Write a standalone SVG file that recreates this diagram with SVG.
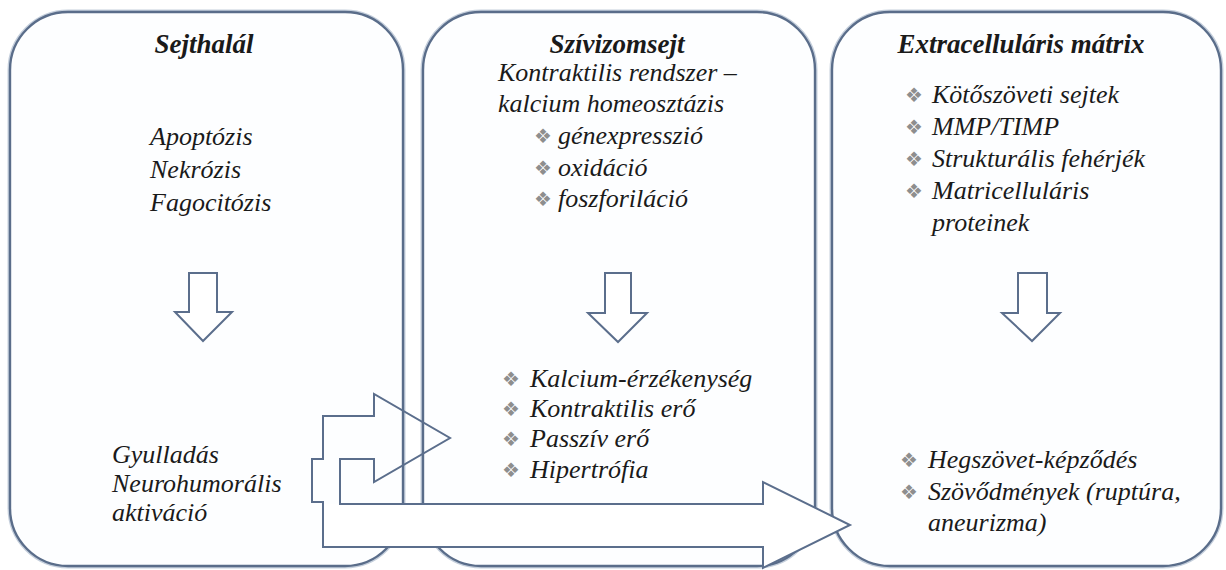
<svg xmlns="http://www.w3.org/2000/svg" width="1226" height="570" viewBox="0 0 1226 570">
<style>
.halo{fill:none;stroke:#c5cfdc;stroke-width:5}
.box{fill:#fdfeff;stroke:#5a6d8a;stroke-width:2.4}
.t{font-family:"Liberation Serif",serif;font-style:italic;font-weight:bold;font-size:27px;fill:#1a1a1a;text-anchor:middle}
.x{font-family:"Liberation Serif",serif;font-style:italic;font-size:26px;fill:#1a1a1a}
.b{font-family:"DejaVu Sans",sans-serif;font-size:20px;fill:#8e8e8e}
.ar{fill:#ffffff;stroke:#5b6e8c;stroke-width:2}
.ln{fill:none;stroke:#5b6e8c;stroke-width:2}
</style>
<rect width="1226" height="570" fill="#ffffff"/>

<g id="sejthalal">
<rect class="halo" x="10" y="12" width="393" height="554" rx="58"/>
<rect class="box" x="10" y="12" width="393" height="554" rx="58"/>
<text class="t" x="204" y="53">Sejthalál</text>
<text class="x" x="150" y="145">Apoptózis</text>
<text class="x" x="150" y="178">Nekrózis</text>
<text class="x" x="150" y="211">Fagocitózis</text>
<path class="ar" d="M189,273 H217 V312 H232 L203,341 L175,312 H189 Z"/>
<text class="x" x="112" y="463">Gyulladás</text>
<text class="x" x="112" y="492">Neurohumorális</text>
<text class="x" x="112" y="521">aktiváció</text>
</g>

<g id="szivizomsejt">
<rect class="halo" x="423" y="12" width="392" height="554" rx="58"/>
<rect class="box" x="423" y="12" width="392" height="554" rx="58"/>
<text class="t" x="617" y="53">Szívizomsejt</text>
<text class="x" x="498" y="81">Kontraktilis rendszer –</text>
<text class="x" x="498" y="112">kalcium homeosztázis</text>
<text class="b" x="534" y="143">❖</text><text class="x" x="558" y="144">génexpresszió</text>
<text class="b" x="534" y="175">❖</text><text class="x" x="558" y="176">oxidáció</text>
<text class="b" x="534" y="206">❖</text><text class="x" x="558" y="207">foszforiláció</text>
<path class="ar" d="M605,273 H631 V313 H647 L618,342 L588,313 H605 Z"/>
<text class="b" x="502" y="386">❖</text><text class="x" x="530" y="387">Kalcium-érzékenység</text>
<text class="b" x="502" y="416">❖</text><text class="x" x="530" y="417">Kontraktilis erő</text>
<text class="b" x="502" y="446">❖</text><text class="x" x="530" y="447">Passzív erő</text>
<text class="b" x="502" y="477">❖</text><text class="x" x="530" y="478">Hipertrófia</text>
</g>

<g id="extracellularis">
<rect class="halo" x="832" y="12" width="389" height="554" rx="58"/>
<rect class="box" x="832" y="12" width="389" height="554" rx="58"/>
<text class="t" x="1021" y="53">Extracelluláris mátrix</text>
<text class="b" x="905" y="102">❖</text><text class="x" x="932" y="103">Kötőszöveti sejtek</text>
<text class="b" x="905" y="134">❖</text><text class="x" x="932" y="135">MMP/TIMP</text>
<text class="b" x="905" y="166">❖</text><text class="x" x="932" y="167">Strukturális fehérjék</text>
<text class="b" x="905" y="198">❖</text><text class="x" x="932" y="199">Matricelluláris</text>
<text class="x" x="932" y="231">proteinek</text>
<path class="ar" d="M1018,273 H1047 V313 H1060 L1032,341 L1002,313 H1018 Z"/>
<text class="b" x="900" y="467">❖</text><text class="x" x="928" y="468">Hegszövet-képződés</text>
<text class="b" x="900" y="499">❖</text><text class="x" x="928" y="500">Szövődmények (ruptúra,</text>
<text class="x" x="928" y="531">aneurizma)</text>
</g>

<g id="connectors">
<path d="M323,504 H763 V482 L850,525 L763,568 V547 H323 Z" fill="#ffffff" stroke="none"/>
<path class="ln" d="M323,416 H374 V394 L450,438 L374,482 V459 H340 V504 H763 V482 L850,525 L763,568 V547 H323 V502 H312 V459 H323 Z"/>
</g>
</svg>
